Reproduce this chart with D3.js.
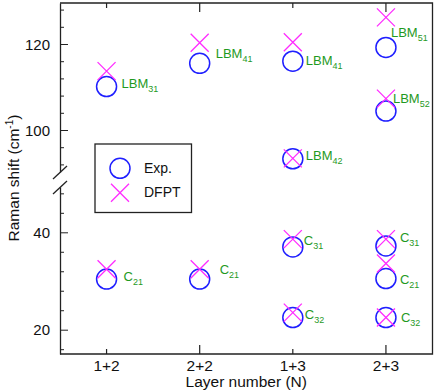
<!DOCTYPE html>
<html>
<head>
<meta charset="utf-8">
<script src="https://cdn.jsdelivr.net/npm/d3@7"></script>
<style>
  body { margin: 0; background: #fff; }
  svg { display: block; font-family: "Liberation Sans", Arial, sans-serif; }
</style>
</head>
<body>
<script>
// categories on the x axis
const layers = ["1+2", "2+2", "1+3", "2+3"]

// each mode: layer, label, experiment, DFPT, where its label sits (cm-1)
const modeLayer = ["1+2", "2+2", "1+3", "1+3", "2+3", "2+3", "1+2", "2+2", "1+3", "1+3", "2+3", "2+3", "2+3"]
const modeName  = ["LBM", "LBM", "LBM", "LBM", "LBM", "LBM", "C", "C", "C", "C", "C", "C", "C"]
const modeSub   = ["31", "41", "41", "42", "51", "52", "21", "21", "31", "32", "31", "21", "32"]
const expValues  = [110.1, 115.5, 116.0, 93.3, 119.2, 104.4, 30.4, 30.4, 37.0, 22.5, 37.2, 30.5, 22.5]
const dfptValues = [113.7, 120.3, 120.4, 93.4, 126.2, 107.3, 32.4, 32.4, 38.6, 23.5, 38.6, 33.6, 22.5]
const labelAt    = [109.8, 116.7, 115.1, 93.0, 121.7, 106.2, 30.0, 31.4, 37.4, 22.2, 38.1, 29.4, 21.6]

const upperTicks = [100, 120]
const lowerTicks = [20, 40]

const width = 436
const height = 392
const plotL = 60, plotR = 432.5, plotT = 3, plotB = 354
const breakTop = 172, breakBottom = 187
const labelDx = [15, 16, 13, 13, 5, 7, 17, 20, 11, 12, 14, 14, 15]

const blue = "#1f1fff"
const magenta = "#ff2bff"
const green = "#1f9a1f"

const x = d3.scalePoint().domain(layers).range([plotL, plotR]).padding(0.5)
const yUp = d3.scaleLinear([100, 120], [130, 44])
const yLo = d3.scaleLinear([20, 40], [329.7, 232.3])
yUp.domain([yUp.invert(breakTop), yUp.invert(plotT)]).range([breakTop, plotT])
yLo.domain([yLo.invert(plotB), yLo.invert(breakBottom)]).range([plotB, breakBottom])

const y = v => v > 70 ? yUp(v) : yLo(v)

const svg = d3.select("body").append("svg")
    .attr("width", width)
    .attr("height", height)

// frame: top, right, bottom
svg.append("path")
    .attr("d", `M${plotL},${plotT}H${plotR}V${plotB}H${plotL}`)
    .attr("fill", "none")
    .attr("stroke", "#222")
    .attr("stroke-width", 1.3)

// left axes (broken)
function leftAxis(scale) {
    const ax = d3.axisRight(scale)
        .tickValues(d3.range(Math.ceil(scale.domain()[0] / 4) * 4, scale.domain()[1], 4))
        .tickSize(4)
        .tickSizeOuter(0)
        .tickFormat("")
    const g = svg.append("g")
        .attr("transform", `translate(${plotL},0)`)
        .call(ax)
    g.select(".domain").attr("stroke", "#222").attr("stroke-width", 1.3)
    g.selectAll(".tick line").attr("stroke", "#222")
    return g
}
const gUp = leftAxis(yUp)
const gLo = leftAxis(yLo)
const major = (g, ticks) => g.selectAll(".tick")
    .filter(d => ticks.includes(d))
    .call(t => t.select("line").attr("x2", 8))
    .append("text")
    .attr("x", -10)
    .attr("dy", "0.35em")
    .attr("text-anchor", "end")
    .attr("fill", "#111")
    .style("font-size", "15px")
    .text(d => d)
major(gUp, upperTicks)
major(gLo, lowerTicks)

// break marks
svg.append("g")
    .attr("stroke", "#222")
    .attr("stroke-width", 1.3)
    .selectAll("line")
    .data([breakTop, breakBottom])
    .join("line")
    .attr("x1", plotL - 7).attr("y1", d => d + 7)
    .attr("x2", plotL + 7).attr("y2", d => d - 6)

// x ticks, top and bottom
const xt = svg.append("g").attr("stroke", "#222").attr("stroke-width", 1.2)
layers.forEach((c, i) => {
    const len = i % 2 ? 9 : 5
    xt.append("line").attr("x1", x(c)).attr("x2", x(c)).attr("y1", plotT).attr("y2", plotT + len)
    xt.append("line").attr("x1", x(c)).attr("x2", x(c)).attr("y1", plotB).attr("y2", plotB - len)
})
svg.append("g")
    .selectAll("text")
    .data(layers)
    .join("text")
    .attr("x", d => x(d))
    .attr("y", 370.5)
    .attr("text-anchor", "middle")
    .attr("fill", "#111")
    .style("font-size", "15.5px")
    .text(d => d)

svg.append("text")
    .attr("x", (plotL + plotR) / 2)
    .attr("y", 387)
    .attr("text-anchor", "middle")
    .attr("fill", "#111")
    .style("font-size", "15.5px")
    .text("Layer number (N)")

const yl = svg.append("text")
    .attr("transform", `translate(18.5,178) rotate(-90)`)
    .attr("text-anchor", "middle")
    .attr("fill", "#111")
    .style("font-size", "15.5px")
yl.append("tspan").text("Raman shift (cm")
yl.append("tspan").attr("dy", -6).style("font-size", "10px").text("-1")
yl.append("tspan").attr("dy", 6).text(")")

// markers
const idx = d3.range(modeLayer.length)
const cross = (sel, cx, cy) => sel.append("path")
    .attr("d", `M${cx - 9},${cy - 9}L${cx + 9},${cy + 9}M${cx - 9},${cy + 9}L${cx + 9},${cy - 9}`)
    .attr("stroke", magenta)
    .attr("stroke-width", 1.3)
    .attr("fill", "none")

svg.append("g")
    .selectAll("circle")
    .data(idx)
    .join("circle")
    .attr("cx", i => x(modeLayer[i]))
    .attr("cy", i => y(expValues[i]))
    .attr("r", 10)
    .attr("fill", "none")
    .attr("stroke", blue)
    .attr("stroke-width", 1.5)

const gx = svg.append("g")
idx.forEach(i => cross(gx, x(modeLayer[i]), y(dfptValues[i])))

// mode labels
svg.append("g")
    .selectAll("text")
    .data(idx)
    .join("text")
    .attr("x", i => x(modeLayer[i]) + labelDx[i])
    .attr("y", i => y(labelAt[i]))
    .attr("fill", green)
    .style("font-size", "13px")
    .each(function (i) {
        const t = d3.select(this)
        t.append("tspan").text(modeName[i])
        t.append("tspan").attr("dy", 4).style("font-size", "9px").text(modeSub[i])
    })

// legend
const lg = svg.append("g")
lg.append("rect")
    .attr("x", 95).attr("y", 144)
    .attr("width", 96.5).attr("height", 68.5)
    .attr("fill", "#fff")
    .attr("stroke", "#222")
    .attr("stroke-width", 1.3)
lg.append("circle")
    .attr("cx", 120).attr("cy", 168.3).attr("r", 10)
    .attr("fill", "none").attr("stroke", blue).attr("stroke-width", 1.5)
cross(lg, 120, 192.7)
lg.selectAll("text.lab")
    .data(["Exp.", "DFPT"])
    .join("text")
    .attr("x", 144)
    .attr("y", (d, i) => 173 + i * 24.4)
    .attr("fill", "#111")
    .style("font-size", "14px")
    .text(d => d)
</script>
</body>
</html>
